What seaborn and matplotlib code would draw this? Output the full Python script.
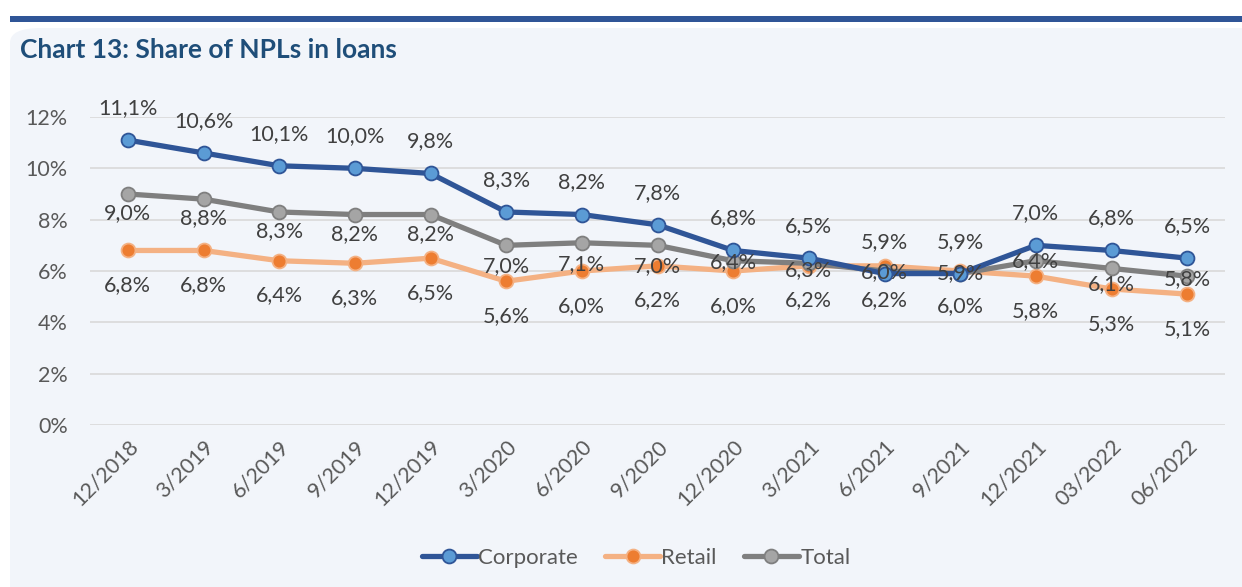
import matplotlib
matplotlib.use("Agg")
import matplotlib.pyplot as plt
from matplotlib.patches import FancyBboxPatch, Rectangle
from matplotlib.lines import Line2D
import pandas as pd
import seaborn as sns

# --- DATA ---
periods = ["12/2018", "3/2019", "6/2019", "9/2019", "12/2019", "3/2020", "6/2020",
           "9/2020", "12/2020", "3/2021", "6/2021", "9/2021", "12/2021", "03/2022", "06/2022"]
corporate = [11.1, 10.6, 10.1, 10.0, 9.8, 8.3, 8.2, 7.8, 6.8, 6.5, 5.9, 5.9, 7.0, 6.8, 6.5]
retail = [6.8, 6.8, 6.4, 6.3, 6.5, 5.6, 6.0, 6.2, 6.0, 6.2, 6.2, 6.0, 5.8, 5.3, 5.1]
total = [9.0, 8.8, 8.3, 8.2, 8.2, 7.0, 7.1, 7.0, 6.4, 6.3, 6.0, 5.9, 6.4, 6.1, 5.8]

# label offsets in points (Excel placed these by hand)
total_label_dy = [-14, -14, -14, -14, -14, -15, -15, -15, -1, -5, -1, 0, 0, -11, -2]

PANEL = "#F2F5FA"
TEXT = "#404040"
FS = 15.5

sns.set_style("white")
plt.rcParams["font.family"] = ["Lato", "DejaVu Sans"]

fig = plt.figure(figsize=(12.42, 5.87), dpi=100)
fig.patch.set_facecolor("white")

# background panel + top bar
W, H = 1242, 587
fig.patches.append(FancyBboxPatch((10 / W, -0.1), (W + 40) / W, (H - 28) / H + 0.1,
                                  boxstyle="round,pad=0,rounding_size=0.025",
                                  transform=fig.transFigure, facecolor=PANEL,
                                  edgecolor="none", zorder=-3))
fig.patches.append(Rectangle((10 / W, (H - 22) / H), (W - 10) / W, 6 / H,
                             transform=fig.transFigure, facecolor="#2F5597",
                             edgecolor="none", zorder=-2))

fig.text(20 / W, 1 - 50 / H, "Chart 13: Share of NPLs in loans", fontsize=19,
         fontweight="bold", color="#1F4E79", va="center", ha="left")

ax = fig.add_axes([90 / W, 162 / H, 1135 / W, 308 / H])
ax.set_facecolor(PANEL)
ax.set_zorder(1)

df = pd.DataFrame({"period": periods, "Corporate": corporate,
                   "Retail": retail, "Total": total})

styles = {
    "Corporate": dict(line="#2F5597", face="#5B9BD5", edge="#2F5597"),
    "Retail": dict(line="#F4B183", face="#ED7D31", edge="#F4B183"),
    "Total": dict(line="#7F7F7F", face="#A5A5A5", edge="#7F7F7F"),
}

for name in ["Retail", "Total", "Corporate"]:
    st = styles[name]
    sns.lineplot(data=df, x="period", y=name, ax=ax, sort=False, color=st["line"],
                 linewidth=3.8, marker="o", markersize=10,
                 markerfacecolor=st["face"], markeredgecolor=st["edge"],
                 markeredgewidth=1.3, zorder=3)

fmt = lambda v: f"{v:.1f}%".replace(".", ",")
for i in range(len(periods)):
    ax.annotate(fmt(corporate[i]), (i, corporate[i]), xytext=(0, 23),
                textcoords="offset points", ha="center", va="center",
                fontsize=FS, color=TEXT, zorder=5)
    ax.annotate(fmt(retail[i]), (i, retail[i]), xytext=(0, -25),
                textcoords="offset points", ha="center", va="center",
                fontsize=FS, color=TEXT, zorder=5)
    ax.annotate(fmt(total[i]), (i, total[i]), xytext=(0, total_label_dy[i]),
                textcoords="offset points", ha="center", va="center",
                fontsize=FS, color=TEXT, zorder=5)

ax.set_xlim(-0.5, len(periods) - 0.5)
ax.set_ylim(0, 12)
ax.set_yticks(range(0, 13, 2))
ax.set_yticklabels([f"{v}%" for v in range(0, 13, 2)], fontsize=FS, color="#595959")
ax.set_xticks(range(len(periods)))
ax.set_xticklabels(periods, rotation=45, ha="right", rotation_mode="anchor",
                   fontsize=FS, color="#595959")
ax.tick_params(axis="x", length=0, pad=8)
ax.tick_params(axis="y", length=0, pad=16)
ax.yaxis.grid(True, color="#D9D9D9", linewidth=1.2)
ax.set_axisbelow(True)
ax.set_xlabel("")
ax.set_ylabel("")
for s in ax.spines.values():
    s.set_visible(False)

handles = [Line2D([0], [0], color=styles[n]["line"], linewidth=3.8, marker="o",
                  markersize=10, markerfacecolor=styles[n]["face"],
                  markeredgecolor=styles[n]["edge"], markeredgewidth=1.3)
           for n in ["Corporate", "Retail", "Total"]]
fig.legend(handles, ["Corporate", "Retail", "Total"], loc="center",
           bbox_to_anchor=(636 / W, 1 - 558 / H), ncol=3, frameon=False,
           fontsize=16, labelcolor="#595959", handlelength=2.5,
           handletextpad=0.05, columnspacing=1.2)

fig.savefig("out.png", dpi=100, facecolor=fig.get_facecolor())
